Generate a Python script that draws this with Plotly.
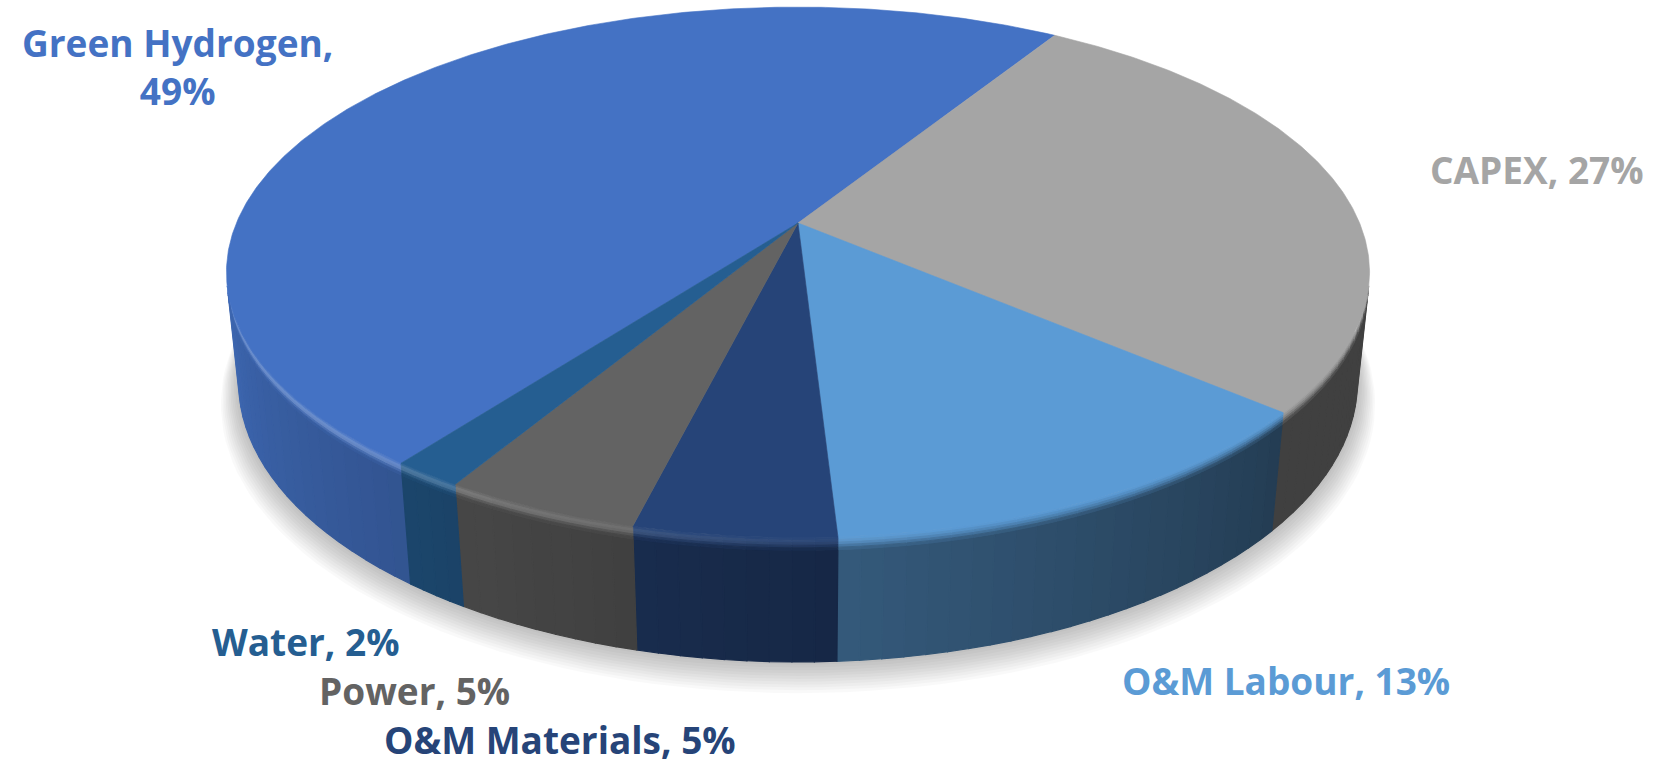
import numpy as np
import plotly.graph_objects as go

# ---------------- data ----------------
labels = ["Green Hydrogen", "CAPEX", "O&M Labour", "O&M Materials", "Power", "Water"]
values = [48.6, 27.4, 12.8, 4.8, 4.7, 1.7]
top_colors = ["#4472C4", "#A5A5A5", "#5B9BD5", "#264478", "#636363", "#255E91"]
label_texts = ["Green Hydrogen,<br>49%", "CAPEX, 27%", "O&M Labour, 13%",
               "O&M Materials, 5%", "Power, 5%", "Water, 2%"]
label_xy = [(177, 66), (1537, 169), (1286, 680), (560, 739), (414, 690), (306, 641)]

# ---------------- geometry (3-D perspective pie) ----------------
W, H = 1660, 764
CX, CY = 798, 223
SIN_A = 0.456
COS_A = np.sqrt(1 - SIN_A ** 2)
RAD = 0.209          # radius / camera distance
K = 2687.0           # focal scale (px)
DEPTH = 0.221 * RAD  # slab thickness
START = 217.0        # first slice start angle (deg, clockwise from back)


def project(theta_deg, y, rs=1.0):
    t = np.radians(theta_deg)
    X = RAD * rs * np.sin(t)
    Z = -RAD * rs * np.cos(t)
    d = 1 - (y * SIN_A + Z * COS_A)
    cam_y = y * COS_A - Z * SIN_A
    return CX + K * X / d, CY - K * cam_y / d


def hex2rgb(h):
    h = h.lstrip("#")
    return np.array([int(h[i:i + 2], 16) for i in (0, 2, 4)], dtype=float)


def rgbstr(c):
    c = np.clip(np.round(c), 0, 255).astype(int)
    return "rgb(%d,%d,%d)" % tuple(c)


def rim_factor(th):
    th = th % 360
    return float(np.clip(0.39 + 0.004 * (th - 130), 0.39, 0.9))


def highlight(th):
    th = th % 360
    return float(np.clip((th - 165) / 60.0, 0, 1)) * 0.22


total = sum(values)
spans = [v / total * 360 for v in values]
starts = []
a = START
for s in spans:
    starts.append(a)
    a += s

fig = go.Figure()


def poly(xs, ys, color, width=0.8, line_color=None):
    fig.add_trace(go.Scatter(
        x=list(xs) + [xs[0]], y=list(ys) + [ys[0]], mode="lines", fill="toself",
        fillcolor=color, line=dict(color=line_color or color, width=width),
        hoverinfo="skip", showlegend=False))


# soft shadow under the pie
for i in range(12):
    ts = np.linspace(0, 360, 181)
    sx, sy = project(ts, -DEPTH, 1.0 + 0.0028 * i)
    sy = sy + 1.7 * i
    poly(sx, sy, "rgba(0,0,0,0.022)", width=0)

# rim (visible front side) with shading and a rounded top bevel
th_s = np.degrees(np.arccos(-RAD / COS_A))
vis = (th_s, 360 - th_s)
BEV = [0.0, 0.02, 0.04, 0.06, 0.08, 0.10]
for st, sp, col in zip(starts, spans, top_colors):
    top = hex2rgb(col)
    lo, hi = st % 360, st % 360 + sp
    for off in (0, 360):
        a0 = max(lo, vis[0] + off)
        a1 = min(hi, vis[1] + off)
        if a1 <= a0:
            continue
        n = max(1, int(np.ceil((a1 - a0) / 2.0)))
        edges = np.linspace(a0, a1, n + 1)
        for e0, e1 in zip(edges[:-1], edges[1:]):
            ts = np.linspace(e0, e1, 4)
            mid = (e0 + e1) / 2
            rim = top * rim_factor(mid)
            tx, ty = project(ts, -BEV[-1] * DEPTH)
            bx, by = project(ts[::-1], -DEPTH)
            poly(np.r_[tx, bx], np.r_[ty, by], rgbstr(rim), width=1.2)
            hl = highlight(mid)
            for j in range(len(BEV) - 1):
                t = (j + 0.5) / (len(BEV) - 1)
                base = top + (rim - top) * t ** 1.6
                c = base + (255 - base) * hl * np.sin(np.pi * min(1, t * 1.3))
                ux, uy = project(ts, -BEV[j] * DEPTH)
                vx, vy = project(ts[::-1], -BEV[j + 1] * DEPTH)
                poly(np.r_[ux, vx], np.r_[uy, vy], rgbstr(c), width=0.9)

# top faces
for st, sp, col in zip(starts, spans, top_colors):
    ts = np.linspace(st, st + sp, max(8, int(sp * 2)))
    ax, ay = project(ts, 0.0)
    cx0, cy0 = project(0.0, 0.0, 0.0)
    poly(np.r_[cx0, ax], np.r_[cy0, ay], col, width=0.6)

# labels
for txt, (lx, ly), col in zip(label_texts, label_xy, top_colors):
    fig.add_annotation(x=lx, y=ly, xref="x", yref="y", text=txt, showarrow=False,
                       xanchor="center", yanchor="middle", align="center",
                       font=dict(family="Open Sans", size=37, color=col, weight=700))

fig.update_layout(
    width=W, height=H, margin=dict(l=0, r=0, t=0, b=0),
    paper_bgcolor="white", plot_bgcolor="white", showlegend=False,
    xaxis=dict(range=[0, W], visible=False, fixedrange=True),
    yaxis=dict(range=[H, 0], visible=False, fixedrange=True),
    hovermode=False,
)
fig.write_html("out.html", config={"displayModeBar": False},
               post_script="document.body.style.margin='0px';document.body.style.overflow='hidden';")
